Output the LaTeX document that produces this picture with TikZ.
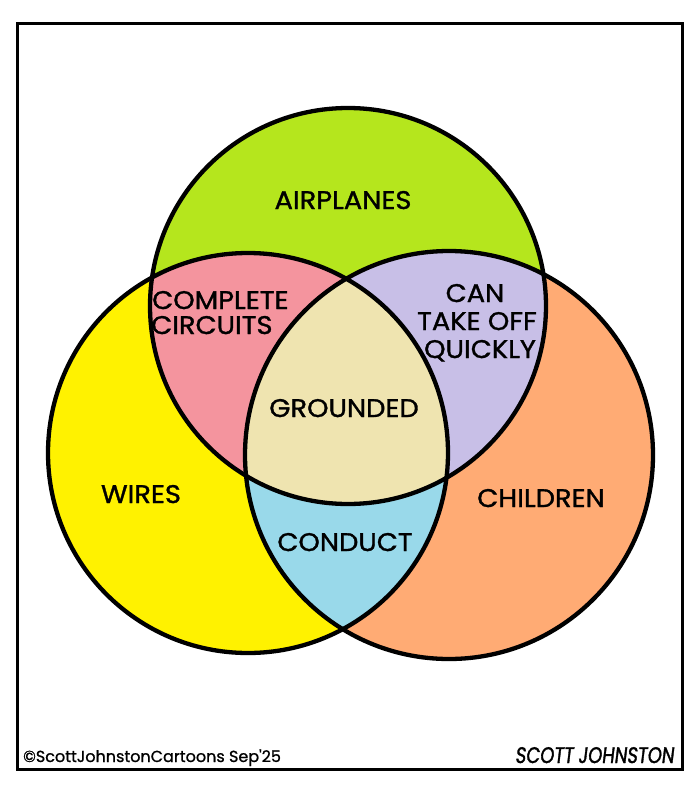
\documentclass[tikz,border=0pt]{standalone}
\usepackage{fontspec}
\setmainfont{Poppins}[FakeBold=1.3, FakeStretch=1.07]
\newfontfamily\footfont{Poppins}[FakeBold=1]
\newfontfamily\sigfont{Poppins}[FakeSlant=0.12, FakeStretch=0.8, FakeBold=1.5]
\definecolor{cgreen}{HTML}{B5E61D}
\definecolor{cyellow}{HTML}{FFF200}
\definecolor{corange}{HTML}{FFAB74}
\definecolor{cpink}{HTML}{F4949E}
\definecolor{cpurple}{HTML}{C8BFE7}
\definecolor{cblue}{HTML}{99D9EA}
\definecolor{cground}{HTML}{EFE4B0}
\begin{document}
\begin{tikzpicture}[x=1pt,y=-1pt,
  lbl/.style={inner sep=0pt, font=\fontsize{25.5}{28}\selectfont, text=black},
  ring/.style={draw=black, line width=4.3pt},
  foot/.style={inner sep=0pt, font=\footfont\fontsize{16}{20}\selectfont, text=black}]
\useasboundingbox (0,0) rectangle (700,787);
\fill[white] (0,0) rectangle (700,787);
\coordinate (cT) at (348,306);
\coordinate (cL) at (248,453);
\coordinate (cR) at (449,455);
\def\rT{198pt}\def\rL{200pt}\def\rR{204pt}
% single-set fills
\fill[cgreen] (cT) circle[radius=\rT];
\fill[cyellow] (cL) circle[radius=\rL];
\fill[corange] (cR) circle[radius=\rR];
% pairwise intersections
\begin{scope}
  \clip (cT) circle[radius=\rT];
  \fill[cpink] (cL) circle[radius=\rL];
  \fill[cpurple] (cR) circle[radius=\rR];
\end{scope}
\begin{scope}
  \clip (cL) circle[radius=\rL];
  \fill[cblue] (cR) circle[radius=\rR];
\end{scope}
% triple intersection
\begin{scope}
  \clip (cT) circle[radius=\rT];
  \clip (cL) circle[radius=\rL];
  \fill[cground] (cR) circle[radius=\rR];
\end{scope}
% outlines
\draw[ring] (cT) circle[radius=\rT];
\draw[ring] (cL) circle[radius=\rL];
\draw[ring] (cR) circle[radius=\rR];
% frame
\draw[line width=3pt] (17,23) rectangle (682,769);
% labels
\node[lbl, anchor=base] (airplanes) at (343,209) {AIRPLANES};
\node[lbl, anchor=base west] (complete) at (152,309) {COMPLETE};
\node[lbl, anchor=base west] (circuits) at (151,334) {CIRCUITS};
\node[lbl, anchor=base] (can) at (475,302) {CAN};
\node[lbl, anchor=base] (takeoff) at (477,330) {TAKE OFF};
\node[lbl, anchor=base] (quickly) at (480,358) {QUICKLY};
\node[lbl, anchor=base] (grounded) at (344,417) {GROUNDED};
\node[lbl, anchor=base] (wires) at (141,503) {WIRES};
\node[lbl, anchor=base] (children) at (541,507) {CHILDREN};
\node[lbl, anchor=base] (conduct) at (345,551) {CONDUCT};
\node[foot, anchor=base west] (copy) at (23,762) {©ScottJohnstonCartoons Sep'25};
\node[inner sep=0pt, font=\sigfont\fontsize{22.5}{24}\selectfont, anchor=base east] (sig) at (674,763) {SCOTT JOHNSTON};
\end{tikzpicture}
\end{document}
